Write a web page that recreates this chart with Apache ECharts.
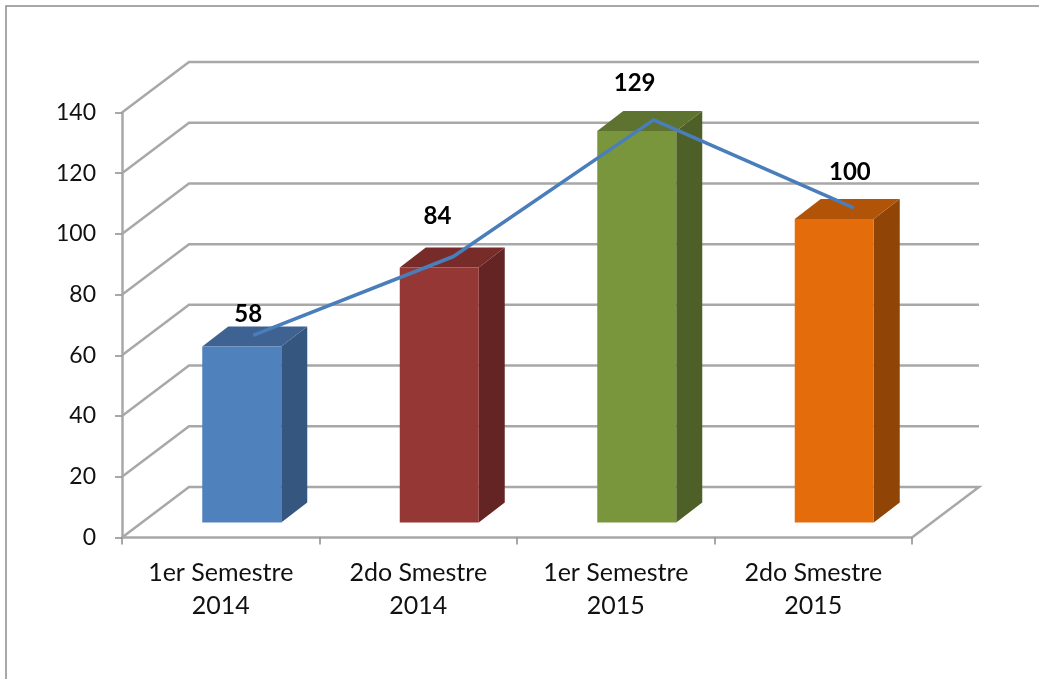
<!DOCTYPE html>
<html>
<head>
<meta charset="utf-8">
<style>html,body{margin:0;padding:0;background:#fff;}#c{width:1039px;height:679px;}</style>
<script src="https://cdn.jsdelivr.net/npm/echarts@6/dist/echarts.min.js"></script>
</head>
<body>
<div id="c"></div>
<script>
var categories = ['1er Semestre\n2014', '2do Smestre\n2014', '1er Semestre\n2015', '2do Smestre\n2015'];
var values = [58, 84, 129, 100];
var wallTicks = [0, 20, 40, 60, 80, 100, 120, 140];
var frontColors = ['#4F81BD', '#953735', '#7A963C', '#E46C0A'];
var sideColors = ['#35567F', '#632423', '#4E6028', '#904506'];
var topColors = ['#3E6291', '#772C2A', '#5E7330', '#B15408'];
var labelOffsets = [[-5, -21], [-16, -40], [-19, -37], [-4, -36]];

var FONT = 'Lato';
var GRID = '#A8A8A8';
var WALL_DX = 67, WALL_DY = -50.5;
var BAR_DX = 21, BAR_DY = -15, SIDE_DX = 26, SIDE_DY = -20;

var chart = echarts.init(document.getElementById('c'), null, {renderer: 'canvas'});

function renderBar(params, api) {
  var i = api.value(0);
  var p = api.coord([i, api.value(1)]);
  var b = api.coord([i, 0]);
  var w = api.size([1, 0])[0] * 0.4;
  var l = p[0] - w / 2 + BAR_DX, r = l + w;
  var t = p[1] + BAR_DY, bt = b[1] + BAR_DY;
  return {
    type: 'group',
    children: [
      {type: 'polygon', shape: {points: [[r, t], [r + SIDE_DX, t + SIDE_DY], [r + SIDE_DX, bt + SIDE_DY], [r, bt]]}, style: {fill: sideColors[i]}},
      {type: 'polygon', shape: {points: [[l, t], [l + SIDE_DX, t + SIDE_DY], [r + SIDE_DX, t + SIDE_DY], [r, t]]}, style: {fill: topColors[i]}},
      {type: 'rect', shape: {x: l, y: t, width: w, height: bt - t}, style: {fill: frontColors[i]}}
    ]
  };
}

function renderWall(params, api) {
  var v = api.value(0);
  var c = api.coord([0, v]);
  var band = api.size([1, 0])[0];
  var x0 = c[0] - band / 2, y0 = c[1];
  var xEnd = x0 + band * categories.length;
  var pts = [[x0, y0], [x0 + WALL_DX, y0 + WALL_DY], [xEnd + WALL_DX, y0 + WALL_DY]];
  if (v === 0) pts.push([xEnd, y0]);
  return {type: 'polyline', shape: {points: pts}, style: {stroke: GRID, lineWidth: 2.5, fill: null}};
}

function renderLabel(params, api) {
  var i = api.value(0);
  var v = api.value(1);
  var p = api.coord([i, v]);
  return {
    type: 'text',
    style: {
      text: String(v),
      x: p[0] + labelOffsets[i][0],
      y: p[1] + labelOffsets[i][1],
      align: 'center',
      verticalAlign: 'middle',
      fill: '#000',
      font: 'bold 24px ' + FONT
    }
  };
}

chart.setOption({
  animation: false,
  backgroundColor: '#fff',
  graphic: [{
    type: 'polyline',
    silent: true,
    shape: {points: [[6, 679], [6, 6], [1039, 6]]},
    style: {stroke: '#8C8C8C', lineWidth: 1.5, fill: null}
  }],
  grid: [
    {left: 122, width: 790, top: 112.5, height: 425},
    {left: 153, width: 801, top: 86.5, height: 425}
  ],
  xAxis: [{
    type: 'category', gridIndex: 0, data: categories,
    axisLine: {lineStyle: {color: GRID, width: 2.5}},
    axisTick: {show: true, length: 7, lineStyle: {color: '#8C8C8C', width: 1.5}},
    axisLabel: {margin: 19, lineHeight: 33, interval: 0, color: '#111', fontFamily: FONT, fontSize: 25},
    splitLine: {show: false}
  }, {
    type: 'category', gridIndex: 1, data: categories, show: false
  }],
  yAxis: [{
    type: 'value', gridIndex: 0, min: 0, max: 140, interval: 20,
    axisLine: {show: true, lineStyle: {color: GRID, width: 2.5}},
    axisTick: {show: true, length: 7, lineStyle: {color: '#8C8C8C', width: 1.5}},
    axisLabel: {margin: 26, color: '#111', fontFamily: FONT, fontSize: 23, padding: [5, 0, 0, 0]},
    splitLine: {show: false}
  }, {
    type: 'value', gridIndex: 1, min: 0, max: 140, interval: 20, show: false
  }],
  series: [{
    type: 'custom', xAxisIndex: 0, yAxisIndex: 0, z: 1, silent: true,
    data: wallTicks.map(function (v) { return [v]; }),
    encode: {y: 0},
    renderItem: renderWall
  }, {
    type: 'custom', xAxisIndex: 0, yAxisIndex: 0, z: 2, silent: true,
    encode: {x: 0, y: 1},
    data: values.map(function (v, i) { return [i, v]; }),
    renderItem: renderBar
  }, {
    type: 'line', xAxisIndex: 1, yAxisIndex: 1, z: 3, silent: true,
    symbol: 'none',
    lineStyle: {color: '#4A7EBB', width: 3.5},
    data: values
  }, {
    type: 'custom', xAxisIndex: 1, yAxisIndex: 1, z: 4, silent: true,
    encode: {x: 0, y: 1},
    data: values.map(function (v, i) { return [i, v]; }),
    renderItem: renderLabel
  }]
});
</script>
</body>
</html>
